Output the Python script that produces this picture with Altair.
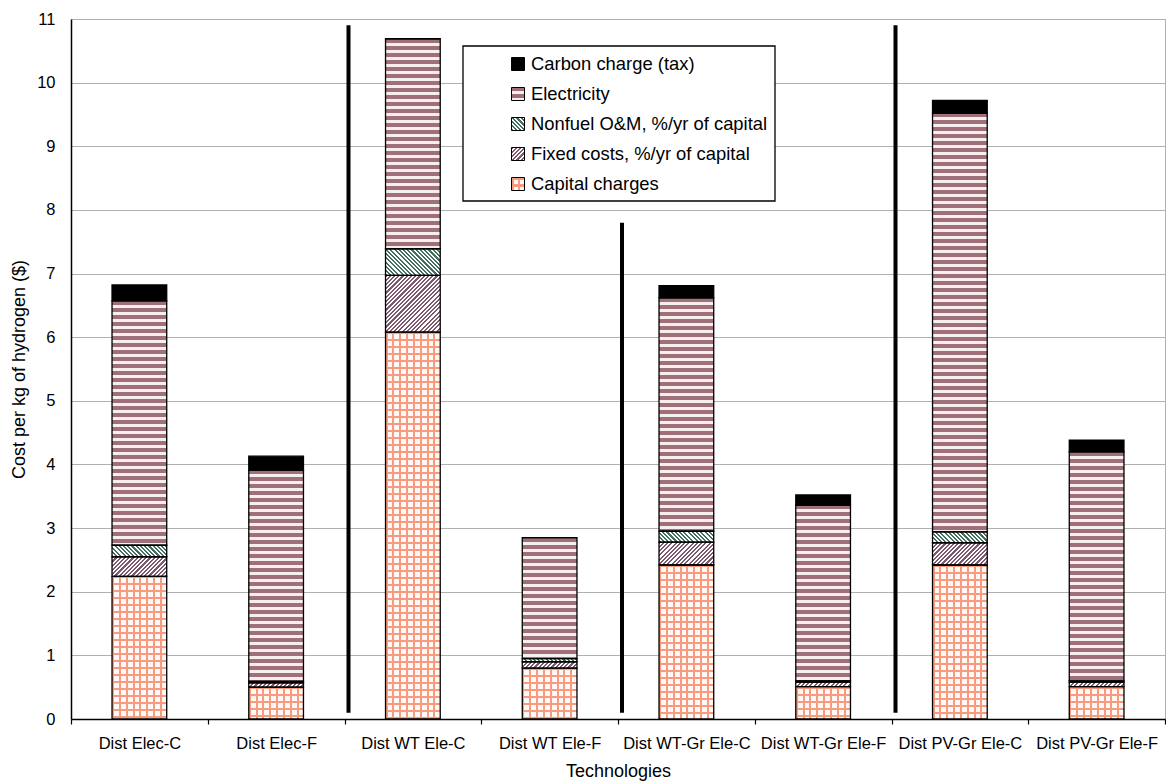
import math
import altair as alt

# ---- data -------------------------------------------------------------
techs = [
    "Dist Elec-C", "Dist Elec-F", "Dist WT Ele-C", "Dist WT Ele-F",
    "Dist WT-Gr Ele-C", "Dist WT-Gr Ele-F", "Dist PV-Gr Ele-C", "Dist PV-Gr Ele-F",
]
capital = [2.24, 0.50, 6.08, 0.80, 2.42, 0.51, 2.42, 0.51]
fixed = [0.31, 0.07, 0.89, 0.10, 0.36, 0.07, 0.35, 0.07]
nonfuel = [0.18, 0.02, 0.42, 0.05, 0.17, 0.02, 0.17, 0.02]
electricity = [3.84, 3.32, 3.30, 1.90, 3.67, 2.76, 6.58, 3.60]
carbon = [0.25, 0.22, 0.00, 0.00, 0.19, 0.16, 0.20, 0.18]

cost_names = [
    "Capital charges",
    "Fixed costs, %/yr of capital",
    "Nonfuel O&M, %/yr of capital",
    "Electricity",
    "Carbon charge (tax)",
]
legend_order = [
    "Carbon charge (tax)",
    "Electricity",
    "Nonfuel O&M, %/yr of capital",
    "Fixed costs, %/yr of capital",
    "Capital charges",
]

# group dividers: drawn at the left edge of these categories
divider_at = ["Dist WT Ele-C", "Dist WT-Gr Ele-C", "Dist PV-Gr Ele-C"]
divider_low = [0.1, 0.1, 0.1]
divider_high = [10.9, 7.8, 10.9]

# ---- layout / style ---------------------------------------------------
W, H = 1094, 700
Y_MAX = 11
BAND = 0.4
FONT = "Liberation Sans"
PX_PER_UNIT = H / Y_MAX
BAR_PX = BAND * W / len(techs)

SALMON = "#f69b80"
CELL = "#fff8f5"
ELEC_DARK = "#9f7077"
ELEC_LIGHT = "#f6eeef"
FIXED_LINE = "#7d5a6f"
OM_LINE = "#45705f"
CLEAR = "rgba(255,255,255,0)"


def runs(length, period, on, c_on, c_off):
    """Hard-edged alternating colour stops along a run of `length` pixels."""
    stops = [{"offset": 0, "color": c_on}]
    x, state = 0.0, True
    while True:
        x += on if state else period - on
        if x >= length:
            break
        o = round(x / length, 5)
        stops.append({"offset": o, "color": c_on if state else c_off})
        state = not state
        stops.append({"offset": o, "color": c_on if state else c_off})
    stops.append({"offset": 1, "color": c_on if state else c_off})
    return stops


def linear(x1, y1, x2, y2, stops):
    return {"gradient": "linear", "x1": x1, "y1": y1,
            "x2": round(x2, 5), "y2": round(y2, 5), "stops": stops}


def stripes_h(w, h, period, on, c_on, c_off):
    return linear(0, 0, 0, 1, runs(h, period, on, c_on, c_off))


def stripes_v(w, h, period, on, c_on, c_off):
    return linear(0, 0, 1, 0, runs(w, period, on, c_on, c_off))


def stripes_diag(w, h, spacing, c_on, c_off, rising):
    # 45-degree hatching inside a w x h box (bounding-box gradient units)
    a = (w + h) / (w * w + h * h)
    period = spacing * math.sqrt(2)
    st = runs(w + h, period, period * 0.5, c_on, c_off)
    if rising:
        return linear(0, 0, a * w, a * h, st)
    return linear(0, 1, a * w, 1 - a * h, st)


def paint(name, w, h):
    """Return (fill, overlay fill) for one cost component drawn w x h px."""
    if name == "Carbon charge (tax)" or h <= 0:
        return "black", None
    if name == "Capital charges":
        return (stripes_h(w, h, 7.0, 2.0, SALMON, CELL),
                stripes_v(w, h, 6.85, 2.0, SALMON, CLEAR))
    if name == "Fixed costs, %/yr of capital":
        return stripes_diag(w, h, 3.0, FIXED_LINE, "white", True), None
    if name == "Nonfuel O&M, %/yr of capital":
        return stripes_diag(w, h, 3.0, OM_LINE, "white", False), None
    return stripes_h(w, h, 7.0, 4.0, ELEC_DARK, ELEC_LIGHT), None


series = dict(zip(cost_names, [capital, fixed, nonfuel, electricity, carbon]))

bar_rows, over_rows = [], []
for i, t in enumerate(techs):
    base = 0.0
    for name in cost_names:
        v = series[name][i]
        top = base + v
        fill, over = paint(name, BAR_PX, v * PX_PER_UNIT)
        bar_rows.append({"tech": t, "cost": name, "y0": base, "y1": top, "paint": fill})
        if over is not None:
            over_rows.append({"tech": t, "cost": name, "y0": base, "y1": top, "paint": over})
        base = top

divider_rows = [
    {"tech": t, "y0": lo, "y1": hi}
    for t, lo, hi in zip(divider_at, divider_low, divider_high)
]

SYM = 13
leg_rows, leg_over = [], []
for r, name in enumerate(legend_order):
    fill, over = paint(name, SYM, SYM)
    leg_rows.append({"row": r, "label": name, "paint": fill})
    if over is not None:
        leg_over.append({"row": r, "label": name, "paint": over})

# ---- encodings ---------------------------------------------------------
x_scale = alt.Scale(domain=techs, paddingInner=0, paddingOuter=0)
x_axis = alt.Axis(
    labelAngle=0, tickBand="extent", tickSize=5, tickColor="black", tickWidth=1.2,
    domainColor="black", domainWidth=1.5, labelFont=FONT, labelFontSize=16.5,
    labelColor="black", labelPadding=11, labelOverlap=False, titleFont=FONT,
    titleFontSize=18, titleFontWeight="normal", titleColor="black", titlePadding=11,
    grid=False,
)
y_axis = alt.Axis(
    values=list(range(Y_MAX + 1)), ticks=False, domainColor="black", domainWidth=1.5,
    gridColor="#b0b0b0", gridWidth=1.2, labelFont=FONT, labelFontSize=16.5,
    labelColor="black", labelPadding=16, titleFont=FONT, titleFontSize=18,
    titleFontWeight="normal", titleColor="black", titlePadding=8,
)


def x_enc(**kw):
    return alt.X("tech:N", scale=x_scale, axis=x_axis, title="Technologies", **kw)


y_enc = alt.Y("y0:Q", scale=alt.Scale(domain=[0, Y_MAX], nice=False),
              axis=y_axis, title="Cost per kg of hydrogen ($)")

bar_width = alt.RelativeBandSize(BAND)

bars = alt.Chart(alt.Data(values=bar_rows)).mark_bar(
    width=bar_width, strokeWidth=0
).encode(x=x_enc(), y=y_enc, y2="y1:Q", fill=alt.Fill("paint:N", scale=None))

grid_over = alt.Chart(alt.Data(values=over_rows)).mark_bar(
    width=bar_width, strokeWidth=0
).encode(x=x_enc(), y=y_enc, y2="y1:Q", fill=alt.Fill("paint:N", scale=None))

outlines = alt.Chart(alt.Data(values=bar_rows)).mark_bar(
    width=bar_width, fill="white", fillOpacity=0, stroke="black", strokeWidth=1.3
).encode(x=x_enc(), y=y_enc, y2="y1:Q")

dividers = alt.Chart(alt.Data(values=divider_rows)).mark_rule(
    color="black", strokeWidth=4, xOffset=4
).encode(x=x_enc(bandPosition=0), y=y_enc, y2="y1:Q")

main = alt.layer(bars, grid_over, outlines, dividers)

# ---- legend -------------------------------------------------------------
leg_y = alt.Y("row:O", scale=alt.Scale(domain=list(range(len(legend_order))),
                                       range=[45, 165], padding=0), axis=None)

box = alt.Chart(alt.Data(values=[{}])).mark_rect(
    fill="white", stroke="black", strokeWidth=1.3
).encode(x=alt.value(392), x2=alt.value(704), y=alt.value(27), y2=alt.value(182))

sym = alt.Chart(alt.Data(values=leg_rows)).mark_square(
    size=SYM * SYM, opacity=1, strokeWidth=0
).encode(x=alt.value(447), y=leg_y, fill=alt.Fill("paint:N", scale=None))

sym_over = alt.Chart(alt.Data(values=leg_over)).mark_square(
    size=SYM * SYM, opacity=1, strokeWidth=0
).encode(x=alt.value(447), y=leg_y, fill=alt.Fill("paint:N", scale=None))

sym_out = alt.Chart(alt.Data(values=leg_rows)).mark_square(
    size=SYM * SYM, opacity=1, fill="white", fillOpacity=0, stroke="black", strokeWidth=1
).encode(x=alt.value(447), y=leg_y)

txt = alt.Chart(alt.Data(values=leg_rows)).mark_text(
    align="left", baseline="middle", font=FONT, fontSize=18.4, color="black"
).encode(x=alt.value(460), y=leg_y, text="label:N")

legend = alt.layer(box, sym, sym_over, sym_out, txt)

chart = alt.layer(main, legend).resolve_scale(y="independent").properties(
    width=W,
    height=H,
    autosize=alt.AutoSizeParams(type="none"),
    padding={"left": 71, "top": 19, "right": 1, "bottom": 63},
    background="white",
).configure_view(stroke="#b0b0b0", strokeWidth=1)

chart.save("out.html", embed_options={"renderer": "svg", "actions": False})
